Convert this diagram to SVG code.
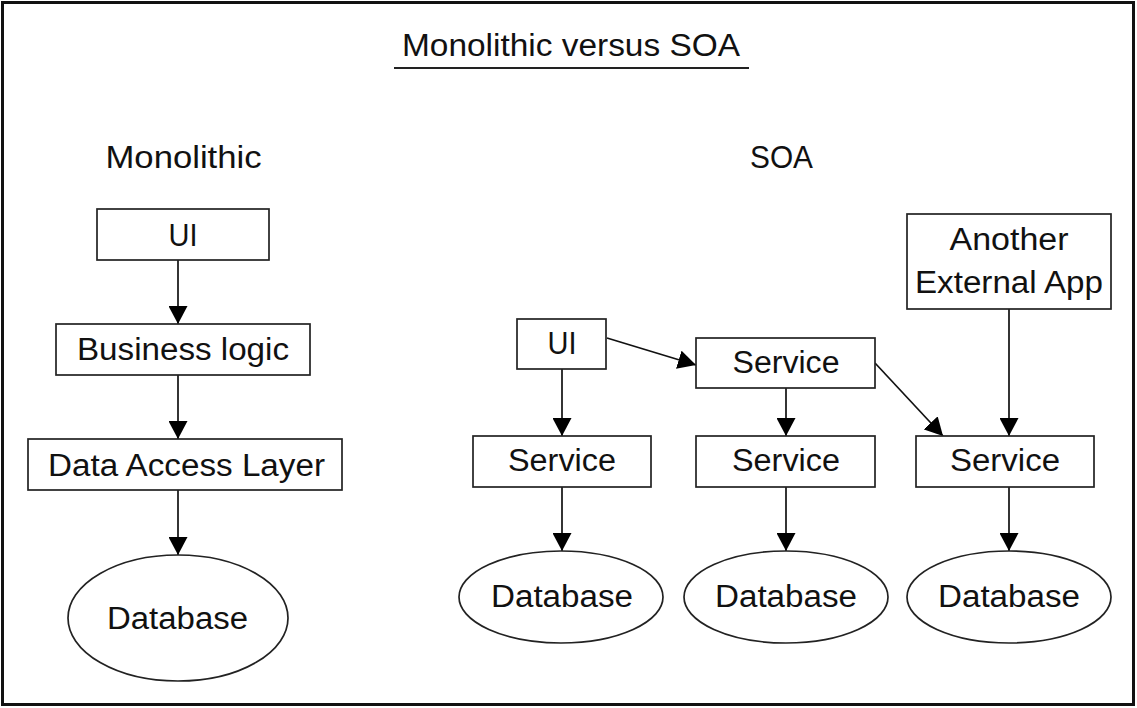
<svg xmlns="http://www.w3.org/2000/svg" width="1137" height="708" viewBox="0 0 1137 708">
<style>
  text { font-family: "Liberation Sans", Arial, sans-serif; font-size: 31px; fill: #111; text-anchor: middle; }
  .box { fill: #fff; stroke: #222; stroke-width: 1.7; }
  .conn line { stroke: #111; stroke-width: 1.7; marker-end: url(#arr); }
</style>
<defs>
  <marker id="arr" markerUnits="userSpaceOnUse" markerWidth="19" markerHeight="19" refX="18" refY="9.5" orient="auto">
    <path d="M0,0 L18,9.5 L0,19 Z" fill="#000"/>
  </marker>
</defs>
<rect x="0" y="0" width="1137" height="708" fill="#fff"/>
<rect x="2.5" y="2.5" width="1131" height="702" fill="none" stroke="#111" stroke-width="3"/>

<g id="title">
  <text x="571" y="56" textLength="338" lengthAdjust="spacingAndGlyphs">Monolithic versus SOA</text>
  <line x1="394" y1="68" x2="749" y2="68" stroke="#222" stroke-width="1.8"/>
</g>
<g id="label-monolithic"><text x="183.5" y="168" textLength="156" lengthAdjust="spacingAndGlyphs">Monolithic</text></g>
<g id="label-soa"><text x="781.5" y="168" textLength="63" lengthAdjust="spacingAndGlyphs">SOA</text></g>

<g class="conn" id="connectors">
  <line x1="178" y1="260" x2="178" y2="324"/>
  <line x1="178" y1="375" x2="178" y2="439"/>
  <line x1="178" y1="490" x2="178" y2="555"/>
  <line x1="562" y1="369" x2="562" y2="436"/>
  <line x1="607" y1="338" x2="696" y2="365"/>
  <line x1="786" y1="388" x2="786" y2="436"/>
  <line x1="875" y1="363" x2="943" y2="436"/>
  <line x1="1009" y1="309" x2="1009" y2="436"/>
  <line x1="562" y1="487" x2="562" y2="551"/>
  <line x1="786" y1="487" x2="786" y2="551"/>
  <line x1="1009" y1="487" x2="1009" y2="551"/>
</g>

<g id="mono-ui">
  <rect class="box" x="97" y="209" width="172" height="51"/>
  <text x="183" y="246" textLength="29" lengthAdjust="spacingAndGlyphs">UI</text>
</g>
<g id="mono-business">
  <rect class="box" x="56" y="324" width="254" height="51"/>
  <text x="183" y="360" textLength="212" lengthAdjust="spacingAndGlyphs">Business logic</text>
</g>
<g id="mono-dal">
  <rect class="box" x="28" y="439" width="314" height="51"/>
  <text x="186.5" y="476" textLength="277" lengthAdjust="spacingAndGlyphs">Data Access Layer</text>
</g>
<g id="mono-db">
  <ellipse class="box" cx="178" cy="618" rx="110" ry="63"/>
  <text x="177.5" y="629" textLength="141" lengthAdjust="spacingAndGlyphs">Database</text>
</g>

<g id="soa-ui">
  <rect class="box" x="517" y="319" width="89" height="50"/>
  <text x="562" y="354" textLength="29" lengthAdjust="spacingAndGlyphs">UI</text>
</g>
<g id="soa-service-top">
  <rect class="box" x="696" y="338" width="179" height="50"/>
  <text x="786" y="373" textLength="107" lengthAdjust="spacingAndGlyphs">Service</text>
</g>
<g id="soa-external">
  <rect class="box" x="907" y="214" width="204" height="95"/>
  <text x="1009" y="250" textLength="119" lengthAdjust="spacingAndGlyphs">Another</text>
  <text x="1009" y="293" textLength="188" lengthAdjust="spacingAndGlyphs">External App</text>
</g>
<g id="soa-service-1">
  <rect class="box" x="473" y="436" width="178" height="51"/>
  <text x="562" y="471" textLength="108" lengthAdjust="spacingAndGlyphs">Service</text>
</g>
<g id="soa-service-2">
  <rect class="box" x="696" y="436" width="179" height="51"/>
  <text x="786" y="471" textLength="108" lengthAdjust="spacingAndGlyphs">Service</text>
</g>
<g id="soa-service-3">
  <rect class="box" x="916" y="436" width="178" height="51"/>
  <text x="1005" y="471" textLength="110" lengthAdjust="spacingAndGlyphs">Service</text>
</g>
<g id="soa-db-1">
  <ellipse class="box" cx="561" cy="597" rx="102" ry="46"/>
  <text x="562" y="607" textLength="142" lengthAdjust="spacingAndGlyphs">Database</text>
</g>
<g id="soa-db-2">
  <ellipse class="box" cx="786" cy="597" rx="102" ry="46"/>
  <text x="786" y="607" textLength="142" lengthAdjust="spacingAndGlyphs">Database</text>
</g>
<g id="soa-db-3">
  <ellipse class="box" cx="1009" cy="597" rx="102" ry="46"/>
  <text x="1009" y="607" textLength="142" lengthAdjust="spacingAndGlyphs">Database</text>
</g>
</svg>
